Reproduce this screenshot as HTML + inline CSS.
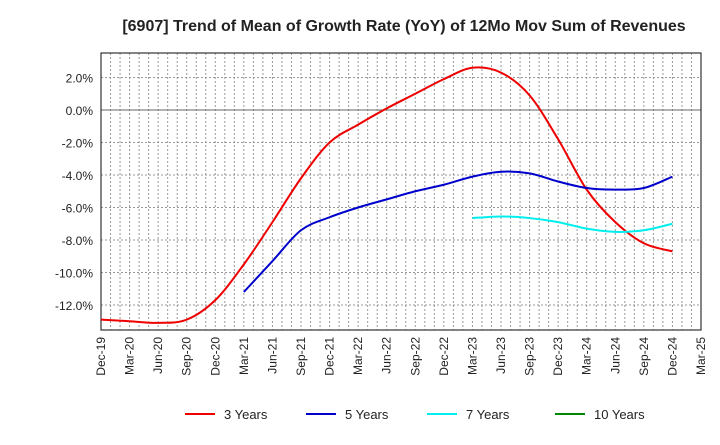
<!DOCTYPE html>
<html><head><meta charset="utf-8"><style>
body{margin:0;background:#fff;font-family:"Liberation Sans",sans-serif}
svg text{font-family:"Liberation Sans",sans-serif}
</style></head><body>
<svg id="c" width="720" height="440" xmlns="http://www.w3.org/2000/svg"></svg>
<script>
const xLabels=["Dec-19","Mar-20","Jun-20","Sep-20","Dec-20","Mar-21","Jun-21","Sep-21","Dec-21","Mar-22","Jun-22","Sep-22","Dec-22","Mar-23","Jun-23","Sep-23","Dec-23","Mar-24","Jun-24","Sep-24","Dec-24","Mar-25"];
const yTicks=[2,0,-2,-4,-6,-8,-10,-12];
const s3=[-12.9,-13.0,-13.1,-12.9,-11.7,-9.5,-6.9,-4.2,-2.0,-0.9,0.1,1.0,1.9,2.6,2.3,0.9,-1.8,-4.9,-6.9,-8.2,-8.7];
const s5=[null,null,null,null,null,-11.2,-9.3,-7.4,-6.6,-6.0,-5.5,-5.0,-4.6,-4.1,-3.8,-3.9,-4.4,-4.8,-4.9,-4.8,-4.1];
const s7=[null,null,null,null,null,null,null,null,null,null,null,null,null,-6.65,-6.55,-6.65,-6.9,-7.3,-7.5,-7.4,-7.0];
const s10=[];
const svg=document.getElementById('c');const NS="http://www.w3.org/2000/svg";
const L=101,R=701,T=53,B=330;
const X=i=>L+i*(R-L)/21;
const Y=v=>110-v*16.25;
function mk(t,a,p){const e=document.createElementNS(NS,t);for(const k in a)e.setAttribute(k,a[k]);(p||svg).appendChild(e);return e;}
const title=mk('text',{x:404,y:31,'text-anchor':'middle','font-size':16,'font-weight':'bold',fill:'#222'});title.textContent="[6907]  Trend of Mean of Growth Rate (YoY) of 12Mo Mov Sum of Revenues";

const grid=mk('g',{});
for(let m=1;m<63;m++){const x=L+m*(R-L)/63;mk('line',{x1:x,x2:x,y1:T,y2:B,stroke:'#999','stroke-dasharray':'2,2','stroke-width':1},grid);}
yTicks.forEach(v=>{mk('line',{x1:L,x2:R,y1:Y(v),y2:Y(v),stroke:v==0?'#666':'#999','stroke-dasharray':v==0?'':'2,2','stroke-width':1},grid);
const t=mk('text',{x:L-8,y:Y(v)+5,'text-anchor':'end','font-size':12,fill:'#222'});t.textContent=v.toFixed(1)+'%';
});
mk('rect',{x:L,y:T,width:R-L,height:B-T,fill:'none',stroke:'#333','stroke-width':1.2});
xLabels.forEach((l,i)=>{const t=mk('text',{transform:`translate(${X(i)+4},${B+7}) rotate(-90)`,'text-anchor':'end','font-size':12,fill:'#222'});t.textContent=l;
});
function path(arr){const p=[];arr.forEach((v,i)=>{if(v!=null)p.push([X(i),Y(v)]);});if(p.length<2)return'';
let d=`M${p[0][0]},${p[0][1]}`;for(let i=0;i<p.length-1;i++){const p0=p[i-1]||p[i],p1=p[i],p2=p[i+1],p3=p[i+2]||p2;
d+=`C${p1[0]+(p2[0]-p0[0])/6},${p1[1]+(p2[1]-p0[1])/6} ${p2[0]-(p3[0]-p1[0])/6},${p2[1]-(p3[1]-p1[1])/6} ${p2[0]},${p2[1]}`;}return d;}
const series=[[s3,'#e00','3 Years','series-3-years'],[s5,'#00c','5 Years','series-5-years'],[s7,'#0ee','7 Years','series-7-years'],[s10,'#080','10 Years','series-10-years']];
series.forEach(([a,c,n,dn])=>{const d=path(a);if(d){const e=mk('path',{d:d,fill:'none',stroke:c,'stroke-width':2});}});
const lx=[185,306,427,555];
series.forEach(([a,c,n],i)=>{const g=mk('g',{});
mk('line',{x1:lx[i],x2:lx[i]+30,y1:414,y2:414,stroke:c,'stroke-width':2},g);const t=mk('text',{x:lx[i]+39,y:419,'font-size':13,fill:'#222'},g);t.textContent=n;});
</script>
</body></html>
